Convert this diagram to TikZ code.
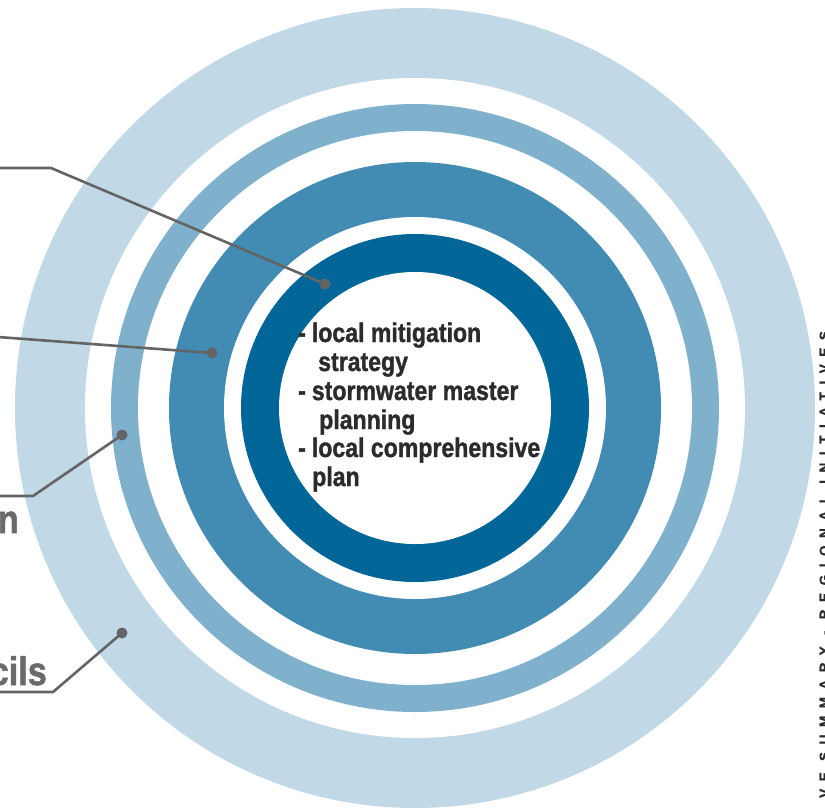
\documentclass[tikz,border=0pt]{standalone}
\usepackage{fontspec}
\setmainfont{Liberation Sans}
\newfontfamily\condfont{Liberation Sans}[FakeStretch=0.855, FakeBold=1.2]
\newfontfamily\trackfont{Liberation Sans}[LetterSpace=56, FakeBold=0.8]
\definecolor{ringA}{HTML}{C1D9E6}
\definecolor{ringB}{HTML}{7FB1CC}
\definecolor{ringC}{HTML}{428BB3}
\definecolor{ringD}{HTML}{036698}
\definecolor{linegray}{HTML}{646464}
\definecolor{labelgray}{HTML}{6A6A6A}
\definecolor{textdark}{HTML}{2B2B2B}
\tikzset{
  pin/.style={circle, fill=linegray, inner sep=0pt, minimum size=11pt},
  leader/.style={draw=linegray, line width=2.6pt, line join=miter},
  itemtext/.style={anchor=base west, inner sep=0pt, text=textdark, font=\condfont\bfseries\fontsize{27}{29}\selectfont},
  sidelabel/.style={anchor=base east, inner sep=0pt, text=labelgray, font=\condfont\bfseries\fontsize{40}{44}\selectfont},
  vert/.style={anchor=base west, inner sep=0pt, rotate=90, text=textdark, font=\trackfont\bfseries\fontsize{13.5}{15}\selectfont}
}
\begin{document}
\begin{tikzpicture}[x=1pt,y=-1pt]
\useasboundingbox (0,0) rectangle (825,807);
\fill[white] (0,0) rectangle (825,807);
\coordinate (c) at (415,408);
\fill[ringA] (c) circle (400);
\fill[white] (c) circle (330);
\fill[ringB] (c) circle (304);
\fill[white] (c) circle (277);
\fill[ringC] (c) circle (246);
\fill[white] (c) circle (191);
\fill[ringD] (c) circle (174);
\fill[white] (c) circle (136);

% texts in centre
\node[itemtext] (t1) at (298,342) {-\hspace{6pt}local mitigation};
\node[itemtext] (t2) at (318,371) {strategy};
\node[itemtext] (t3) at (298,400) {-\hspace{6pt}stormwater master};
\node[itemtext] (t4) at (319,429) {planning};
\node[itemtext] (t5) at (298,457) {-\hspace{6pt}local comprehensive};
\node[itemtext] (t6) at (312,486) {plan};

% side labels (cut at left edge)
\node[sidelabel] (l3) at (19,533) {an};
\node[sidelabel] (l4) at (47,685) {cils};

% pins
\node[pin] (p1) at (325,284) {};
\node[pin] (p2) at (212,353) {};
\node[pin] (p3) at (122,435) {};
\node[pin] (p4) at (122,633) {};

% leader ends
\coordinate (e1) at (-2,168);
\coordinate (k1) at (51,168);
\coordinate (e2) at (-2,337);
\coordinate (e3) at (-2,496);
\coordinate (k3) at (33,496);
\coordinate (e4) at (-2,692);
\coordinate (k4) at (53,692);

\draw[leader] (e1) -- (k1) -- (p1.center);
\draw[leader] (e2) -- (p2.center);
\draw[leader] (e3) -- (k3) -- (p3.center);
\draw[leader] (e4) -- (k4) -- (p4.center);

% vertical running title (cut at right edge)
\node[vert] (title) at (829,798) {VE SUMMARY - REGIONAL INITIATIVES};
\end{tikzpicture}
\end{document}
